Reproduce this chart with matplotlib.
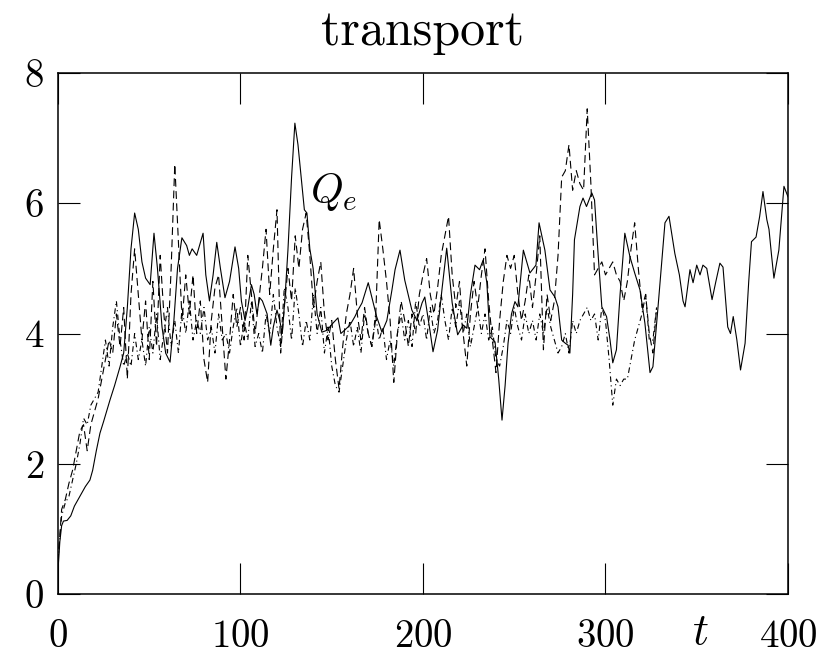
"""transport: Q_e vs t, three runs."""
import numpy as np
import matplotlib
matplotlib.use("Agg")
import matplotlib.pyplot as plt
import matplotlib.transforms as mtransforms

plt.rcParams['font.family'] = 'cmr10'
plt.rcParams['mathtext.fontset'] = 'cm'
plt.rcParams['axes.formatter.use_mathtext'] = True

# solid run (t, Q_e)
t_solid = [0, 1, 2, 3, 5, 7, 9, 11, 13, 15, 17.5, 19, 21, 23, 25, 28.5, 31, 34, 36, 38,
           40, 42, 44, 46, 48, 50.5, 52.6, 54.5, 57, 59, 61.4, 63.5, 65.5, 67.9, 70.5, 72,
           73.5, 76, 79.5, 81, 83, 85, 87, 89, 91.5, 94, 97, 99, 100.5, 102.5, 104, 106,
           107.5, 109, 110.5, 112, 114.6, 116.6, 118, 120, 121.5, 122.9, 124.5, 126, 128,
           129.8, 131.5, 133.6, 135, 136.4, 138, 139.8, 142, 144.6, 147.4, 150.7, 153.4,
           155, 157, 160, 162.7, 164.4, 166.6, 170, 172.6, 174.6, 177.5, 180.2, 183, 184.7,
           187.4, 190, 193.9, 196.7, 199.5, 201, 203.8, 205.5, 208, 210.5, 213, 216, 219,
           222, 224, 226, 228.5, 231, 233, 235, 236.7, 239.5, 241.5, 243.3, 245, 246.6,
           248.5, 250.4, 252, 255, 258.6, 261.9, 263.6, 266.8, 269.6, 272.3, 274, 276, 278,
           279.5, 280.5, 282, 283, 286, 287.7, 289.6, 292.5, 294, 296, 298, 300.6, 302.5,
           304, 306, 308, 310.6, 313.4, 316, 318.9, 321.6, 324.4, 326, 328.8, 332.6, 334.8,
           336.5, 338, 340.5, 342.5, 343.6, 346.3, 348, 350, 351.8, 353.4, 355.5, 358.4,
           360.5, 362.7, 364.4, 367, 368.5, 370, 372, 374, 376.5, 378.5, 380, 382.5, 384.5,
           386.3, 388.4, 389.6, 391, 392.3, 395, 396.5, 397.8, 400]
q_solid = [0.35, 0.8, 1.05, 1.12, 1.13, 1.2, 1.35, 1.45, 1.55, 1.65, 1.75, 1.9, 2.2, 2.47,
           2.65, 2.98, 3.2, 3.49, 3.7, 4.4, 5.3, 5.85, 5.6, 5.1, 4.85, 4.75, 5.54, 5.0, 4.1,
           3.7, 3.56, 4.2, 5.0, 5.47, 5.35, 5.2, 5.3, 5.2, 5.54, 4.9, 4.5, 4.9, 5.4, 5.0,
           4.55, 4.8, 5.33, 5.0, 4.5, 4.2, 4.4, 4.75, 4.6, 4.3, 4.55, 4.5, 4.3, 3.82, 4.1,
           4.36, 4.2, 4.0, 4.6, 5.28, 6.4, 7.23, 6.9, 6.3, 5.9, 5.85, 5.3, 5.0, 4.3, 4.02,
           4.05, 4.16, 4.24, 4.0, 4.05, 4.13, 4.26, 4.36, 4.47, 4.78, 4.49, 4.26, 4.02, 4.2,
           4.67, 4.98, 5.28, 4.82, 4.36, 4.2, 4.47, 4.56, 4.05, 3.72, 4.05, 4.7, 5.31, 4.47,
           3.98, 4.13, 4.08, 4.6, 5.05, 4.98, 5.13, 4.78, 3.95, 3.87, 3.3, 2.67, 3.2, 3.85,
           4.3, 4.49, 4.41, 5.28, 4.93, 5.05, 5.7, 5.28, 4.67, 4.56, 4.41, 3.9, 3.85, 3.82,
           3.7, 4.6, 5.44, 5.95, 6.08, 5.95, 6.16, 6.05, 5.2, 4.41, 4.26, 3.9, 3.55, 3.75,
           4.6, 5.54, 5.18, 4.93, 4.67, 4.16, 3.4, 3.49, 4.41, 5.7, 5.8, 5.5, 5.23, 4.9, 4.5,
           4.41, 4.98, 4.78, 5.05, 4.9, 5.05, 5.0, 4.52, 4.8, 5.08, 5.02, 4.1, 4.0, 4.26, 3.9,
           3.44, 3.85, 4.8, 5.41, 5.48, 5.8, 6.18, 5.75, 5.6, 5.2, 4.85, 5.28, 5.8, 6.26, 6.1]

# dashed and dash-dot runs, sampled every 2 time units up to t = 328
t_runs = np.arange(0, 330, 2)
q_dashed = [0.5, 1.3, 1.45, 1.7, 1.9, 2.2, 2.5, 2.6, 2.2, 2.6, 2.8, 3.0, 3.3, 3.6, 3.9, 3.7,
            4.3, 3.8, 4.4, 3.3, 4.6, 5.3, 4.6, 3.9, 4.5, 3.6, 4.8, 3.8, 5.2, 4.3, 3.7, 5.0,
            6.6, 5.4, 4.2, 4.9, 4.3, 4.9, 4.0, 4.5, 3.6, 3.25, 4.2, 4.7, 4.9, 4.1, 3.3, 3.9,
            4.6, 4.1, 4.4, 3.9, 5.2, 4.6, 4.0, 4.5, 5.0, 5.6, 4.6, 5.3, 5.9, 3.7, 4.4, 5.0,
            4.5, 5.5, 5.0, 5.6, 5.85, 5.2, 4.4, 4.8, 5.1, 4.3, 3.9, 4.2, 3.6, 3.15, 3.8, 4.3,
            4.6, 5.0, 4.3, 3.9, 4.4, 4.0, 3.8, 4.2, 5.75, 5.3, 4.8, 4.2, 3.25, 4.0, 4.5, 4.2,
            3.8, 4.3, 4.0, 4.6, 4.9, 5.15, 4.6, 4.3, 4.7, 5.2, 5.5, 5.8, 4.9, 4.4, 4.8, 4.0,
            3.5, 4.3, 4.8, 4.4, 4.9, 5.3, 4.5, 3.9, 3.4, 4.2, 4.8, 5.2, 5.0, 5.2, 4.6, 4.2,
            4.5, 4.9, 4.4, 4.9, 5.5, 3.75, 4.6, 4.2, 4.5, 5.2, 6.4, 6.5, 6.9, 6.2, 6.5, 6.3,
            6.2, 7.45, 6.3, 4.9, 5.0, 5.1, 4.9, 5.0, 5.1, 4.9, 4.8, 4.5, 4.8, 5.3, 5.7, 5.0,
            4.4, 4.6, 4.0, 3.7, 4.4]
q_dashdot = [0.5, 1.2, 1.4, 1.5, 1.75, 2.0, 2.3, 2.7, 2.6, 2.9, 3.0, 3.1, 3.5, 3.9, 3.5, 4.1,
             4.5, 3.9, 3.5, 3.7, 3.5, 4.0, 3.6, 3.9, 3.5, 4.1, 3.7, 4.3, 3.6, 4.0, 4.4, 3.8,
             4.2, 3.7, 4.4, 4.0, 4.5, 3.9, 4.2, 4.0, 4.4, 3.9, 4.1, 3.7, 4.3, 3.9, 4.0, 3.7,
             4.1, 4.4, 3.8, 4.2, 3.9, 4.5, 3.8, 4.0, 3.7, 4.3, 4.0, 4.6, 4.1, 3.8, 4.7, 4.4,
             3.9, 4.7, 4.3, 3.8, 4.2, 3.9, 4.6, 4.0, 4.4, 3.7, 4.1, 3.5, 3.2, 3.1, 3.5, 3.9,
             4.2, 3.8, 4.1, 3.7, 4.3, 4.0, 3.8, 4.3, 3.9, 4.1, 3.6, 3.9, 3.5, 4.0, 4.3, 3.9,
             4.2, 3.8, 4.5, 4.1, 4.3, 3.9, 4.4, 4.0, 4.2, 4.6, 4.2, 3.9, 4.4, 4.1, 4.5, 4.0,
             4.3, 3.8, 4.1, 4.4, 4.0, 4.3, 3.9, 4.1, 3.6, 3.5, 3.8, 4.2, 4.0, 4.4, 4.1, 3.9,
             4.3, 4.0, 4.2, 3.9, 4.3, 4.0, 4.4, 4.1, 3.9, 3.7, 3.8, 4.0, 3.7, 4.2, 4.0, 4.2,
             4.3, 4.4, 4.2, 4.3, 3.9, 4.4, 4.2, 3.6, 2.9, 3.3, 3.2, 3.3, 3.3, 3.6, 3.9, 4.1,
             4.3, 4.6, 3.9, 3.9, 4.4]

x_ticks = [0, 100, 200, 300, 400]
y_ticks = [0, 2, 4, 6, 8]

fig = plt.figure(figsize=(8.38, 6.56), dpi=100)
ax = fig.add_axes([0.0692, 0.0945, 0.8711, 0.7942])

ax.plot(t_solid, q_solid, color='black', lw=0.8)
ax.plot(t_runs, q_dashed, color='black', lw=0.8, dashes=(7, 4))
ax.plot(t_runs, q_dashdot, color='black', lw=0.8, dashes=(5, 3, 1, 3))

ax.set_xlim(0, 400)
ax.set_ylim(0, 8)
ax.set_xticks(x_ticks)
ax.set_yticks(y_ticks)
ax.tick_params(axis='both', direction='in', top=True, right=True, width=0.8,
               labelsize=28, colors='black')
ax.tick_params(axis='x', length=22, pad=18)
ax.tick_params(axis='y', length=16, pad=10)
for s in ax.spines.values():
    s.set_linewidth(1.1)

ax.set_title(r'transport', fontsize=36, pad=20)
ax.text(138, 6.18, r'$Q_e$', fontsize=30, ha='left', va='center')
trans = mtransforms.blended_transform_factory(ax.transData, ax.transAxes)
ax.text(352, -0.075, r'$t$', transform=trans, fontsize=32, ha='center', va='center')

fig.savefig('out.png', dpi=100)
